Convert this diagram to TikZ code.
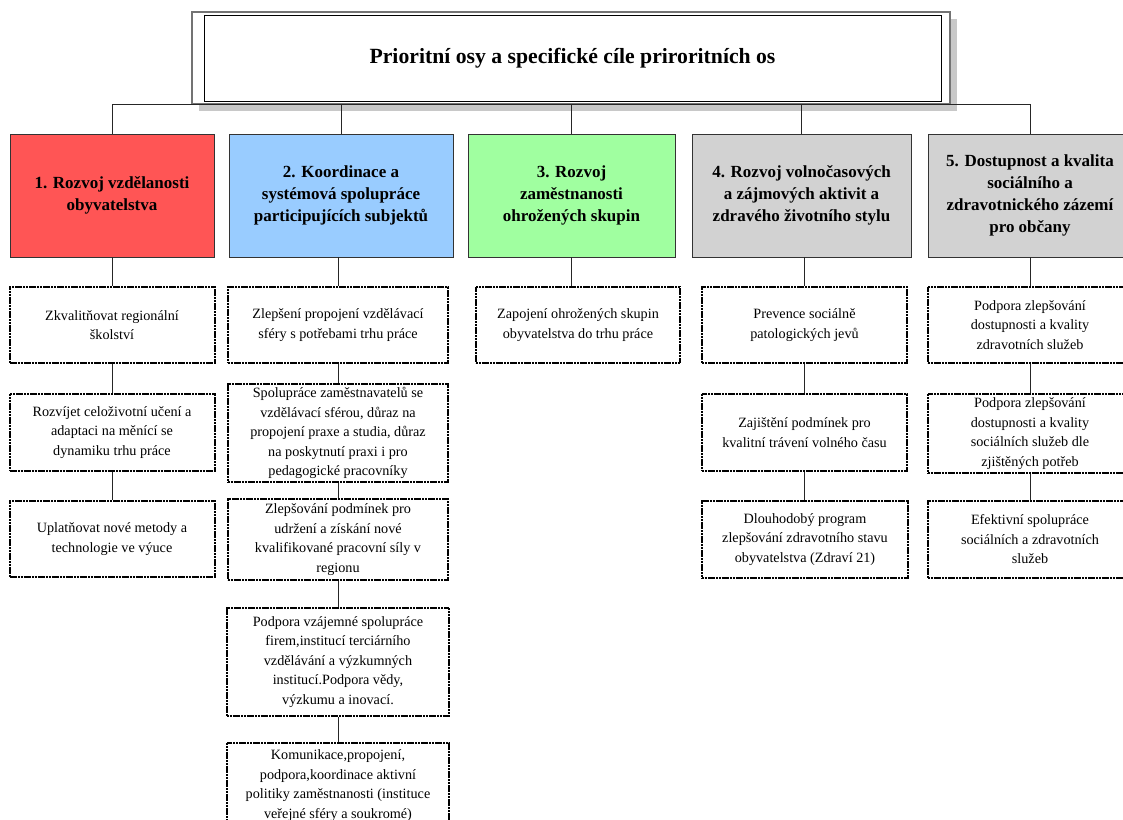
\documentclass[tikz,border=0pt]{standalone}
\usepackage{fontspec}
\setmainfont{Liberation Serif}
\definecolor{hred}{RGB}{255,85,85}
\definecolor{hblue}{RGB}{153,204,255}
\definecolor{hgreen}{RGB}{160,255,160}
\definecolor{hgray}{RGB}{210,210,210}
\definecolor{shadowgray}{RGB}{200,200,200}
\begin{document}
\begin{tikzpicture}[x=1pt,y=-1pt,
  hdr/.style={draw=black!80, line width=0.9pt, inner sep=0pt, align=center,
    minimum height=123pt, font=\fontsize{17}{22}\selectfont\bfseries},
  sub/.style={draw=black, line width=2pt, dash pattern=on 2.2pt off 0.6pt, fill=white,
    inner sep=0pt, align=center, font=\fontsize{14.2}{19.5}\selectfont},
  conn/.style={draw=black!85, line width=0.8pt},
]
\useasboundingbox (0,0) rectangle (1123,819);
\clip (0,0) rectangle (1123,819);
\fill[white] (0,0) rectangle (1123,819);

% title
\fill[shadowgray] (199,19) rectangle (957,111);
\node[draw=black!55, line width=1.2pt, fill=white, inner sep=0pt,
  minimum width=758pt, minimum height=92pt] (titleframe) at (571,58) {};
\node[draw=black, line width=0.9pt, fill=white, inner sep=0pt,
  minimum width=737pt, minimum height=86pt,
  font=\fontsize{21.7}{26}\selectfont\bfseries] (title) at (572.5,58)
  {Prioritní osy a specifické cíle priroritních os};

% headers
\node[hdr, fill=hred, minimum width=204pt] (h1) at (112,195.5)
  {1. Rozvoj vzdělanosti\\obyvatelstva};
\node[hdr, fill=hblue, minimum width=224pt] (h2) at (341,195.5)
  {2. Koordinace a\\systémová spolupráce\\participujících subjektů};
\node[hdr, fill=hgreen, minimum width=207pt] (h3) at (571.5,195.5)
  {3. Rozvoj\\zaměstnanosti\\ohrožených skupin};
\node[hdr, fill=hgray, minimum width=219pt] (h4) at (801.5,195.5)
  {4. Rozvoj volnočasových\\a zájmových aktivit a\\zdravého životního stylu};
\node[hdr, fill=hgray, minimum width=204pt] (h5) at (1030,195.5)
  {5. Dostupnost a kvalita\\sociálního a\\zdravotnického zázemí\\pro občany};

% bus
\coordinate (bus) at (112,104);
\draw[conn] (h1.north) |- (h5.north |- bus) -- (h5.north);
\draw[conn] (titleframe.south west) -- (titleframe.south west |- bus);
\draw[conn] (h2.north) -- (h2.north |- bus);
\draw[conn] (h3.north) -- (h3.north |- bus);
\draw[conn] (h4.north) -- (h4.north |- bus);

% column 1
\node[sub, minimum width=205pt, minimum height=76pt] (c1a) at (112,325)
  {Zkvalitňovat regionální\\školství};
\node[sub, minimum width=205pt, minimum height=77pt] (c1b) at (112,432.5)
  {Rozvíjet celoživotní učení a\\adaptaci na měnící se\\dynamiku trhu práce};
\node[sub, minimum width=205pt, minimum height=76pt] (c1c) at (112,539)
  {Uplatňovat nové metody a\\technologie ve výuce};

% column 2
\node[sub, minimum width=220pt, minimum height=76pt] (c2a) at (338,325)
  {Zlepšení propojení vzdělávací\\sféry s potřebami trhu práce};
\node[sub, minimum width=220pt, minimum height=98pt] (c2b) at (338,433)
  {Spolupráce zaměstnavatelů se\\vzdělávací sférou, důraz na\\propojení praxe a studia, důraz\\na poskytnutí praxi i pro\\pedagogické pracovníky};
\node[sub, minimum width=220pt, minimum height=81pt] (c2c) at (338,539.5)
  {Zlepšování podmínek pro\\udržení a získání nové\\kvalifikované pracovní síly v\\regionu};
\node[sub, minimum width=222pt, minimum height=108pt] (c2d) at (338,662)
  {Podpora vzájemné spolupráce\\firem,institucí terciárního\\vzdělávání a výzkumných\\institucí.Podpora vědy,\\výzkumu a inovací.};
\node[sub, minimum width=222pt, minimum height=85pt] (c2e) at (338,785.5)
  {Komunikace,propojení,\\podpora,koordinace aktivní\\politiky zaměstnanosti (instituce\\veřejné sféry a soukromé)};

% column 3
\node[sub, minimum width=204pt, minimum height=76pt] (c3a) at (578,325)
  {Zapojení ohrožených skupin\\obyvatelstva do trhu práce};

% column 4
\node[sub, minimum width=205pt, minimum height=76pt] (c4a) at (804.5,325)
  {Prevence sociálně\\patologických jevů};
\node[sub, minimum width=205pt, minimum height=77pt] (c4b) at (804.5,432.5)
  {Zajištění podmínek pro\\kvalitní trávení volného času};
\node[sub, minimum width=206pt, minimum height=77pt] (c4c) at (805,539.5)
  {Dlouhodobý program\\zlepšování zdravotního stavu\\obyvatelstva (Zdraví 21)};

% column 5
\node[sub, minimum width=204pt, minimum height=76pt] (c5a) at (1030,325)
  {Podpora zlepšování\\dostupnosti a kvality\\zdravotních služeb};
\node[sub, minimum width=204pt, minimum height=79pt] (c5b) at (1030,433.5)
  {Podpora zlepšování\\dostupnosti a kvality\\sociálních služeb dle\\zjištěných potřeb};
\node[sub, minimum width=204pt, minimum height=77pt] (c5c) at (1030,539.5)
  {Efektivní spolupráce\\sociálních a zdravotních\\služeb};

% vertical connectors
\draw[conn] (h1.south) -- (c1a.north);
\draw[conn] (c1a.south) -- (c1b.north);
\draw[conn] (c1b.south) -- (c1c.north);
\draw[conn] (h2.south -| c2a.north) -- (c2a.north);
\draw[conn] (c2a.south) -- (c2b.north);
\draw[conn] (c2b.south) -- (c2c.north);
\draw[conn] (c2c.south) -- (c2d.north);
\draw[conn] (c2d.south) -- (c2e.north);
\draw[conn] (h3.south) -- (h3.south |- c3a.north);
\draw[conn] (h4.south -| c4a.north) -- (c4a.north);
\draw[conn] (c4a.south) -- (c4b.north);
\draw[conn] (c4b.south) -- (c4c.north -| c4b.south);
\draw[conn] (h5.south) -- (c5a.north);
\draw[conn] (c5a.south) -- (c5b.north);
\draw[conn] (c5b.south) -- (c5c.north);
\end{tikzpicture}
\end{document}
